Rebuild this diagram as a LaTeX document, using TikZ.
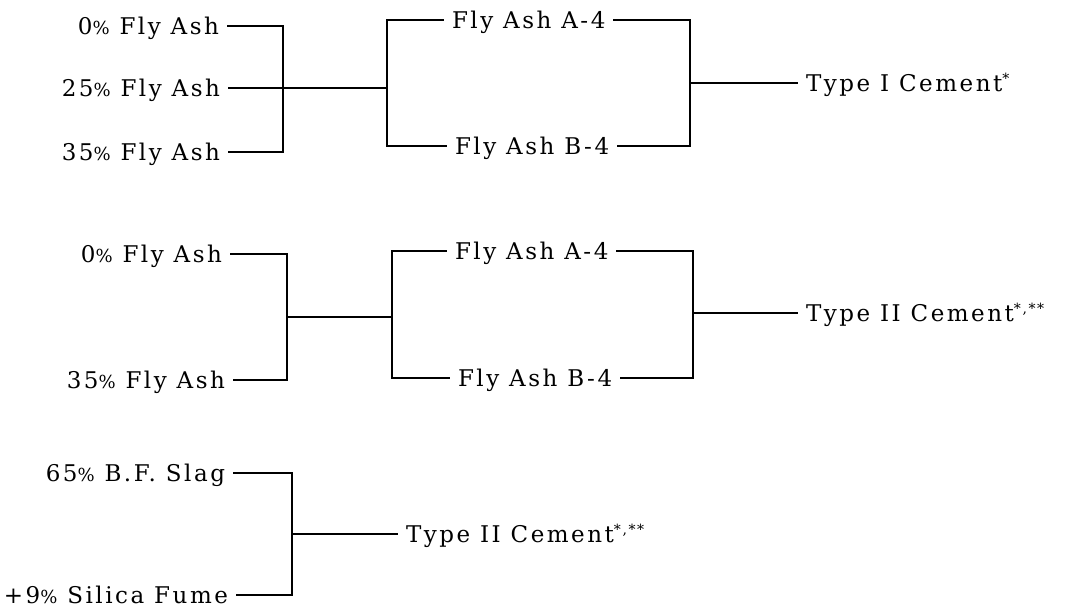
\documentclass[tikz,border=0pt]{standalone}
\usepackage{fontspec}
\setmainfont{DejaVu Serif}[LetterSpace=11]
\newcommand{\stars}[1]{\raisebox{8pt}{\fontsize{14}{14}\selectfont #1}}
\newcommand{\pc}{{\fontsize{18}{20}\selectfont\%}}
\begin{document}
\begin{tikzpicture}[x=1pt,y=-1pt,line width=2.8pt,
  lbl/.style={font=\fontsize{23}{26}\selectfont,inner ysep=0pt,inner xsep=0pt,
    outer ysep=0pt,outer xsep=8pt,text height=17pt,text depth=0pt}]
\useasboundingbox (0,0) rectangle (1065,607);
% ---------- group 1 ----------
\node[lbl,anchor=east] (a1) at (227,26) {0\pc{} Fly Ash};
\node[lbl,anchor=east] (b1) at (228,88) {25\pc{} Fly Ash};
\node[lbl,anchor=east] (c1) at (228,152) {35\pc{} Fly Ash};
\coordinate (j1) at (283,88);
\coordinate (k1) at (387,88);
\node[lbl,anchor=west] (A1) at (444,20) {Fly Ash A-4};
\node[lbl,anchor=west] (B1) at (447,146) {Fly Ash B-4};
\coordinate (m1) at (690,83);
\node[lbl,anchor=west] (T1) at (798,83) {Type I Cement\stars{*}};
\draw (a1.east) -| (j1);
\draw (c1.east) -| (j1);
\draw (b1.east) -- (j1) -- (k1);
\draw (k1) |- (A1.west);
\draw (k1) |- (B1.west);
\draw (A1.east) -| (m1);
\draw (B1.east) -| (m1);
\draw (m1) -- (T1.west);
% ---------- group 2 ----------
\node[lbl,anchor=east] (a2) at (230,254) {0\pc{} Fly Ash};
\node[lbl,anchor=east] (c2) at (233,380) {35\pc{} Fly Ash};
\coordinate (j2) at (287,317);
\coordinate (k2) at (392,317);
\node[lbl,anchor=west] (A2) at (447,251) {Fly Ash A-4};
\node[lbl,anchor=west] (B2) at (450,378) {Fly Ash B-4};
\coordinate (m2) at (693,313);
\node[lbl,anchor=west] (T2) at (798,313) {Type II Cement\stars{*,**}};
\draw (a2.east) -| (j2);
\draw (c2.east) -| (j2);
\draw (j2) -- (k2);
\draw (k2) |- (A2.west);
\draw (k2) |- (B2.west);
\draw (A2.east) -| (m2);
\draw (B2.east) -| (m2);
\draw (m2) -- (T2.west);
% ---------- group 3 ----------
\node[lbl,anchor=east] (a3) at (233,473) {65\pc{} B.F. Slag};
\node[lbl,anchor=east] (c3) at (236,595) {+9\pc{} Silica Fume};
\coordinate (j3) at (292,534);
\node[lbl,anchor=west] (T3) at (398,534) {Type II Cement\stars{*,**}};
\draw (a3.east) -| (j3);
\draw (c3.east) -| (j3);
\draw (j3) -- (T3.west);
\end{tikzpicture}
\end{document}
